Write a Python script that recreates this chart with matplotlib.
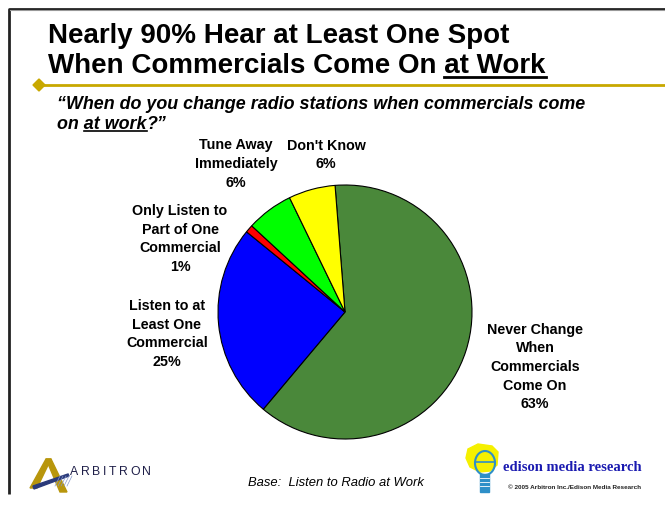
import matplotlib.pyplot as plt
from matplotlib.patches import Polygon, Ellipse, Rectangle

# survey answers, clockwise from the top
answers = ["Never Change\nWhen\nCommercials\nCome On", "Listen to at\nLeast One\nCommercial",
           "Only Listen to\nPart of One\nCommercial", "Tune Away\nImmediately", "Don't Know"]
shares = [63, 25, 1, 6, 6]
slice_colors = ["#4A883A", "#0000FF", "#FF0000", "#00FF00", "#FFFF00"]

W, H = 665, 506
fig = plt.figure(figsize=(W / 100, H / 100), dpi=100)
plt.rcParams["font.family"] = ["Liberation Sans", "DejaVu Sans"]

# page overlay in pixel units
page = fig.add_axes([0, 0, 1, 1])
page.set_xlim(0, W)
page.set_ylim(H, 0)
page.axis("off")

# slide frame and gold rule
page.plot([9, 9, W], [495, 9.5, 9.5], color="#222222", lw=2, solid_capstyle="butt")
page.plot([10, W], [11, 11], color="#999999", lw=0.8)
page.plot([39, W], [86, 86], color="#C8A800", lw=2)
page.add_patch(Polygon([[33, 86], [39, 80], [45, 86], [39, 92]], closed=True, color="#C8A800"))

renderer = fig.canvas.get_renderer()
inv = page.transData.inverted()


def text_width(s, **kw):
    t = page.text(0, 0, s, alpha=0, **kw)
    bb = t.get_window_extent(renderer)
    t.remove()
    return bb.width


def underlined(x, y, prefix, tail, **kw):
    full = page.text(x, y, prefix + tail, va="baseline", **kw)
    fb = full.get_window_extent(renderer)
    x1 = inv.transform((fb.x1, fb.y0))[0]
    x0 = x1 - text_width(tail, **kw)
    return x0, x1


title_kw = dict(fontsize=20, fontweight="bold", color="black")
page.text(48, 43, "Nearly 90% Hear at Least One Spot", va="baseline", **title_kw)
u0, u1 = underlined(48, 73, "When Commercials Come On ", "at Work", **title_kw)
page.plot([u0, u1], [78, 78], color="black", lw=2)

sub_kw = dict(fontsize=12.9, fontweight="bold", fontstyle="italic", color="black")
page.text(57, 109, "\u201cWhen do you change radio stations when commercials come", va="baseline", **sub_kw)
u0, u1 = underlined(57, 129, "on ", "at work", **sub_kw)
page.text(u1, 129, "?\u201d", va="baseline", **sub_kw)
page.plot([u0, u1], [132, 132], color="black", lw=1.2)

# pie, radius 127 px centred at (345, 313)
cx, cy, r = 345, 313, 127
pie_ax = fig.add_axes([(cx - r) / W, (H - cy - r) / H, 2 * r / W, 2 * r / H])
pie_ax.pie(shares, colors=slice_colors, startangle=94.5, counterclock=False,
           wedgeprops=dict(edgecolor="black", linewidth=0.8))
pie_ax.set_xlim(-1, 1)
pie_ax.set_ylim(-1, 1)
pie_ax.set_aspect("equal")
pie_ax.axis("off")

label_pos = [(535, 367), (167, 334), (180, 239), (236, 164), (326, 155)]
for name, val, (lx, ly) in zip(answers, shares, label_pos):
    page.text(lx, ly, f"{name}\n{val}%", ha="center", va="center", fontsize=10.3,
              fontweight="bold", linespacing=1.42)

page.text(248, 486, "Base:  Listen to Radio at Work", fontsize=9.4, fontstyle="italic",
          va="baseline")

# Arbitron mark
gold = "#B8960C"
page.add_patch(Polygon([[46, 460], [51, 460], [37, 489], [30, 489]], closed=True, color=gold))
page.add_patch(Polygon([[46, 460], [51, 460], [67, 493], [60, 493]], closed=True, color=gold))
page.add_patch(Polygon([[33, 487], [68, 475], [69, 477], [34, 490]], closed=True, color="#2A3A7A"))
for i in range(5):
    page.plot([55 + i * 3, 60 + i * 3], [487, 477], color="#8899CC", lw=0.5)

# letter-spaced wordmark
logo_kw = dict(fontsize=8.8, color="#1E1E48", va="baseline")
lx = 70
for ch in "ARBITRON":
    page.text(lx, 475, ch, **logo_kw)
    lx += text_width(ch, **logo_kw) + 2.6

# Edison bulb
blob = [[468, 450], [478, 445], [492, 447], [498, 453], [497, 466], [490, 472],
        [480, 473], [470, 468], [466, 459]]
page.add_patch(Polygon(blob, closed=True, color="#F5F000"))
page.add_patch(Ellipse((485, 464), 20, 24, fill=False, ec="#2E8FC8", lw=1.5))
page.plot([476, 494], [463, 463], color="#2E8FC8", lw=1.2)
page.add_patch(Rectangle((480, 475), 9, 18, color="#2E8FC8"))
for yy in (479, 483, 487):
    page.plot([480, 489], [yy, yy], color="white", lw=0.6)
page.text(503, 471, "edison media research", fontsize=10.5, fontweight="bold",
          family=["Liberation Serif", "DejaVu Serif"], color="#1A1AB0", va="baseline")
page.text(508, 489, "\u00a9 2005 Arbitron Inc./Edison Media Research", fontsize=4.6,
          fontweight="bold", color="#222222", va="baseline")

fig.savefig("out.png", dpi=100)
